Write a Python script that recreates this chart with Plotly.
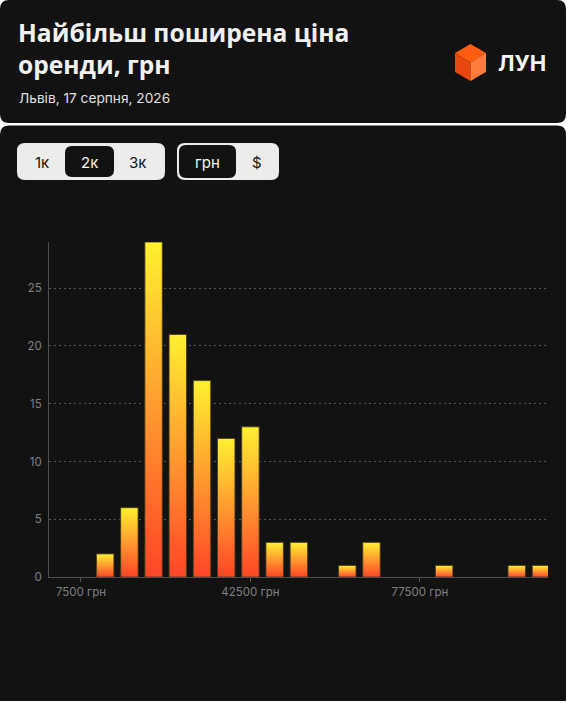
import plotly.graph_objects as go

# ---- data ----
bin_centers = [12500, 17500, 22500, 27500, 32500, 37500, 42500, 47500, 52500, 57500,
               62500, 67500, 72500, 77500, 82500, 87500, 92500, 97500, 102500]
counts = [2, 6, 29, 21, 17, 12, 13, 3, 3, 0, 1, 3, 0, 0, 1, 0, 0, 1, 1]
x_tick_vals = [7500, 42500, 77500]
x_tick_labels = ["7500 грн", "42500 грн", "77500 грн"]
y_tick_vals = [0, 5, 10, 15, 20, 25]
title_text = "Найбільш поширена ціна<br>оренди, грн"
subtitle_text = "Львів, 17 серпня, 2026"
room_buttons = ["1к", "2к", "3к"]
currency_buttons = ["грн", "$"]

# ---- layout geometry (pixels) ----
W, H = 566, 701
PL, PR, PT, PB = 49, 548, 242, 577  # plot area
BAR_W = 3600

def px(x):
    return (x - PL) / (PR - PL)

def py(y):
    return (PB - y) / (PB - PT)

def rrect(x0, y0, x1, y1, r):
    def P(x, y):
        return f"{px(x):.5f},{py(y):.5f}"
    return (f"M {P(x0 + r, y0)} L {P(x1 - r, y0)} Q {P(x1, y0)} {P(x1, y0 + r)} "
            f"L {P(x1, y1 - r)} Q {P(x1, y1)} {P(x1 - r, y1)} L {P(x0 + r, y1)} "
            f"Q {P(x0, y1)} {P(x0, y1 - r)} L {P(x0, y0 + r)} Q {P(x0, y0)} {P(x0 + r, y0)} Z")

def poly(points):
    return "M " + " L ".join(f"{px(x):.5f},{py(y):.5f}" for x, y in points) + " Z"

fig = go.Figure()

# bars as filled polygons with per-bar vertical gradient
for c, v in zip(bin_centers, counts):
    if v <= 0:
        continue
    x0, x1 = c - BAR_W / 2, c + BAR_W / 2
    fig.add_trace(go.Scatter(
        x=[x0, x0, x1, x1, x0], y=[0, v, v, 0, 0],
        mode="lines", fill="toself",
        line=dict(color="rgba(70,60,25,0.85)", width=1),
        fillgradient=dict(type="vertical",
                          colorscale=[[0, "#ff4526"], [0.5, "#ff9a30"], [1, "#fff030"]]),
        hoverinfo="skip", showlegend=False,
    ))

shapes = []
BG = "#121212"
shapes.append(dict(type="path", path=rrect(0, 0, W, 123, 9), xref="paper", yref="paper",
                   fillcolor=BG, line=dict(width=0), layer="below"))
shapes.append(dict(type="path", path=rrect(0, 125.5, W, H + 20, 9), xref="paper", yref="paper",
                   fillcolor=BG, line=dict(width=0), layer="below"))
# button groups
LIGHT = "#ececea"
shapes.append(dict(type="path", path=rrect(17, 143, 165, 180, 8), xref="paper", yref="paper",
                   fillcolor=LIGHT, line=dict(width=0), layer="below"))
shapes.append(dict(type="path", path=rrect(65, 146, 114, 177, 7), xref="paper", yref="paper",
                   fillcolor=BG, line=dict(width=0), layer="below"))
shapes.append(dict(type="path", path=rrect(177, 143, 279, 180, 8), xref="paper", yref="paper",
                   fillcolor=LIGHT, line=dict(width=0), layer="below"))
shapes.append(dict(type="path", path=rrect(179, 145, 236, 178, 7), xref="paper", yref="paper",
                   fillcolor=BG, line=dict(width=0), layer="below"))
# logo cube
cx, cy = 470.5, 62.5
shapes.append(dict(type="path", path=poly([(455, 53), (cx, 44), (486, 53), (cx, cy)]),
                   xref="paper", yref="paper", fillcolor="#ff5e10", line=dict(width=0)))
shapes.append(dict(type="path", path=poly([(455, 53), (cx, cy), (cx, 81), (455, 72)]),
                   xref="paper", yref="paper", fillcolor="#e8470f", line=dict(width=0)))
shapes.append(dict(type="path", path=poly([(cx, cy), (486, 53), (486, 72), (cx, 81)]),
                   xref="paper", yref="paper", fillcolor="#ff7d3c", line=dict(width=0)))

ann = []
FONT = "Inter"
ann.append(dict(text=title_text, x=px(16), y=py(48), xref="paper", yref="paper",
                xanchor="left", yanchor="middle", align="left", showarrow=False,
                font=dict(family="Open Sans", size=24.6, color="#f0f0ee", weight=700)))
ann.append(dict(text=subtitle_text, x=px(17), y=py(98), xref="paper", yref="paper",
                xanchor="left", yanchor="middle", showarrow=False,
                font=dict(family=FONT, size=13.7, color="#e0e0de")))
ann.append(dict(text="ЛУН", x=px(496), y=py(62.5), xref="paper", yref="paper",
                xanchor="left", yanchor="middle", showarrow=False,
                font=dict(family=FONT, size=22, color="#f4f4f4", weight=700)))
for label, cxp, sel in zip(room_buttons, [42, 89.5, 137], [False, True, False]):
    ann.append(dict(text=label, x=px(cxp), y=py(162), xref="paper", yref="paper",
                    xanchor="center", yanchor="middle", showarrow=False,
                    font=dict(family=FONT, size=15, color="#f4f4f4" if sel else "#151515")))
for label, cxp, sel in zip(currency_buttons, [207.5, 256.5], [True, False]):
    ann.append(dict(text=label, x=px(cxp), y=py(162), xref="paper", yref="paper",
                    xanchor="center", yanchor="middle", showarrow=False,
                    font=dict(family=FONT, size=15, color="#f4f4f4" if sel else "#151515")))

AX = "#505058"
fig.update_layout(
    width=W, height=H,
    margin=dict(l=PL, r=W - PR, t=PT, b=H - PB, pad=0),
    paper_bgcolor="#ffffff", plot_bgcolor="rgba(0,0,0,0)",
    shapes=shapes, annotations=ann, showlegend=False,
    xaxis=dict(range=[900, 103950], tickvals=x_tick_vals, ticktext=x_tick_labels,
               showgrid=False, zeroline=False, showline=True, linecolor=AX, linewidth=1,
               ticks="outside", ticklen=4, tickcolor=AX,
               tickfont=dict(family=FONT, size=11.5, color="#808084")),
    yaxis=dict(range=[0, 29], tickvals=y_tick_vals, showgrid=True, gridcolor="#55555e",
               griddash="2px,3px", gridwidth=1, zeroline=False, showline=True,
               linecolor=AX, linewidth=1, ticks="", ticklabelstandoff=4,
               tickfont=dict(family=FONT, size=11.5, color="#808084")),
)

fig.write_html("out.html", config={"displayModeBar": False},
               post_script="document.body.style.margin='0';document.body.style.overflow='hidden';")
